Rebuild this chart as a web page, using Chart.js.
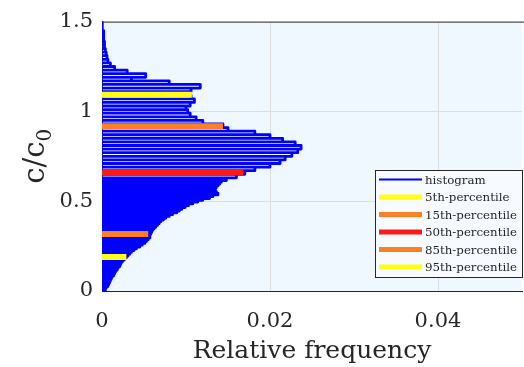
<!DOCTYPE html>
<html>
<head>
<meta charset="utf-8">
<script src="https://cdn.jsdelivr.net/npm/chart.js@4"></script>
<style>
  html, body { margin: 0; padding: 0; background: #fff; }
  #wrap { width: 524px; height: 367px; position: relative; }
</style>
</head>
<body>
<div id="wrap"><canvas id="histChart"></canvas></div>
<script>
// bin centres (c/c0) and relative frequency
const binCenters = [
  0.00,0.01,0.02,0.03,0.04,0.05,0.06,0.07,0.08,0.09,
  0.10,0.11,0.12,0.13,0.14,0.15,0.16,0.17,0.18,0.19,
  0.20,0.21,0.22,0.23,0.24,0.25,0.26,0.27,0.28,0.29,
  0.30,0.31,0.32,0.33,0.34,0.35,0.36,0.37,0.38,0.39,
  0.40,0.41,0.42,0.43,0.44,0.45,0.46,0.47,0.48,0.49,
  0.50,0.51,0.52,0.53,0.54,0.55,0.56,0.57,0.58,0.59,
  0.60,0.61,
  0.62,0.64,0.66,0.68,0.70,0.72,0.74,0.76,0.78,0.80,
  0.82,0.84,0.86,0.88,0.90,0.92,0.94,0.96,0.98,1.00,
  1.02,1.04,1.06,1.08,1.10,1.12,1.14,1.16,1.18,1.20,
  1.22,1.24,1.26,1.28,1.30,1.32,1.34,1.36,1.38,1.40,
  1.42,1.44,1.46,1.48,1.50
];
const relFreq = [
  0.0002,0.0004,0.0005,0.0007,0.0008,0.0009,0.0010,0.0011,0.0012,0.0014,
  0.0015,0.0016,0.0018,0.0019,0.0021,0.0022,0.0023,0.0025,0.0027,0.0029,
  0.0031,0.0033,0.0035,0.0038,0.0041,0.0045,0.0048,0.0051,0.0053,0.0055,
  0.0057,0.0057,0.0058,0.0059,0.0060,0.0062,0.0064,0.0066,0.0068,0.0070,
  0.0073,0.0076,0.0080,0.0084,0.0089,0.0092,0.0095,0.0099,0.0103,0.0108,
  0.0114,0.0120,0.0128,0.0132,0.0138,0.0136,0.0134,0.0135,0.0136,0.0138,
  0.0140,0.0142,
  0.0148,0.0160,0.0170,0.0182,0.0200,0.0212,0.0218,0.0226,0.0233,0.0237,
  0.0230,0.0215,0.0200,0.0182,0.0150,0.0144,0.0120,0.0112,0.0105,0.0102,
  0.0100,0.0105,0.0110,0.0106,0.0104,0.0106,0.0117,0.0080,0.0035,0.0052,
  0.0030,0.0015,0.0010,0.0007,0.0006,0.0005,0.0004,0.0003,0.0003,0.0002,
  0.0002,0.0002,0.0001,0.0001,0.0000
];

// percentiles
const pctLabels = ['5th-percentile','15th-percentile','50th-percentile','85th-percentile','95th-percentile'];
const pctLevels = [0.19, 0.317, 0.66, 0.918, 1.093];
const pctFreq   = [0.0029, 0.0055, 0.0168, 0.0144, 0.0107];
const pctColors = ['#ffff14','#ff8024','#ff1a1a','#ff8024','#ffff14'];

const xTicks = [0, 0.02, 0.04];
const yTicks = [0, 0.5, 1, 1.5];

// build the histogram outline: one rectangle per bin, back to x=0 each time
function binEdges(c) {
  const lo = [], hi = [];
  for (let i = 0; i < c.length; i++) {
    const dPrev = i > 0 ? c[i] - c[i-1] : c[i+1] - c[i];
    const dNext = i < c.length - 1 ? c[i+1] - c[i] : dPrev;
    lo.push(c[i] - dPrev / 2);
    hi.push(c[i] + dNext / 2);
  }
  return { lo, hi };
}
const edges = binEdges(binCenters);
const histPts = [];
binCenters.forEach((c, i) => {
  histPts.push({ x: 0, y: edges.lo[i] });
  histPts.push({ x: relFreq[i], y: edges.lo[i] });
  histPts.push({ x: relFreq[i], y: edges.hi[i] });
  histPts.push({ x: 0, y: edges.hi[i] });
});

const datasets = [{
  label: 'histogram',
  data: histPts,
  borderColor: '#0000ff',
  borderWidth: 2.8,
  borderJoinStyle: 'round',
  showLine: true,
  pointRadius: 0,
  order: 10
}];
pctLabels.forEach((lab, i) => {
  datasets.push({
    label: lab,
    data: [{ x: 0, y: pctLevels[i] }, { x: pctFreq[i], y: pctLevels[i] }],
    borderColor: pctColors[i],
    borderWidth: 6,
    borderCapStyle: 'butt',
    showLine: true,
    pointRadius: 0,
    order: 1
  });
});

const SERIF = '"DejaVu Serif", "Liberation Serif", serif';
const AXIS = '#262626';

const plotBg = {
  id: 'plotBg',
  beforeDraw(chart) {
    const { ctx, chartArea: a } = chart;
    ctx.save();
    ctx.fillStyle = '#f0f8ff';
    ctx.fillRect(a.left, a.top, a.right - a.left, a.bottom - a.top);
    ctx.restore();
  },
  afterDraw(chart) {
    const { ctx, chartArea: a } = chart;
    ctx.save();
    // top box line
    ctx.strokeStyle = AXIS;
    ctx.lineWidth = 1;
    ctx.beginPath();
    ctx.moveTo(a.left, a.top + 0.5);
    ctx.lineTo(a.right + 2, a.top + 0.5);
    ctx.stroke();

    // y title c/c0 with subscript
    ctx.translate(36, (a.top + a.bottom) / 2);
    ctx.rotate(-Math.PI / 2);
    ctx.fillStyle = AXIS;
    ctx.textBaseline = 'alphabetic';
    const main = 'c/c';
    ctx.font = '29px ' + SERIF;
    const w1 = ctx.measureText(main).width;
    ctx.font = '20px ' + SERIF;
    const w2 = ctx.measureText('0').width;
    const x0 = -(w1 + w2) / 2;
    ctx.font = '29px ' + SERIF;
    ctx.textAlign = 'left';
    ctx.fillText(main, x0, 8);
    ctx.font = '20px ' + SERIF;
    ctx.fillText('0', x0 + w1, 15);
    ctx.restore();

    // legend box
    const L = 375, T = 170, R = 523, B = 278;
    ctx.save();
    ctx.fillStyle = '#f7fbff';
    ctx.fillRect(L, T, R - L, B - T);
    ctx.strokeStyle = AXIS;
    ctx.lineWidth = 1;
    ctx.strokeRect(L + 0.5, T + 0.5, R - L - 1, B - T - 1);
    ctx.font = '11.8px ' + SERIF;
    ctx.textBaseline = 'middle';
    ctx.textAlign = 'left';
    chart.data.datasets.forEach((ds, i) => {
      const y = 179.5 + i * 17.5;
      ctx.strokeStyle = ds.borderColor;
      ctx.lineWidth = i === 0 ? 2 : 5;
      ctx.beginPath();
      ctx.moveTo(379, y);
      ctx.lineTo(422, y);
      ctx.stroke();
      ctx.fillStyle = AXIS;
      ctx.fillText(ds.label, 425, y + 1);
    });
    ctx.restore();
  }
};

new Chart(document.getElementById('histChart'), {
  type: 'scatter',
  data: { datasets },
  options: {
    responsive: true,
    maintainAspectRatio: false,
    animation: false,
    layout: { padding: { top: 17, right: 2, left: 0, bottom: 0 } },
    plugins: {
      legend: { display: false },
      tooltip: { enabled: false }
    },
    scales: {
      x: {
        type: 'linear', min: 0, max: 0.05,
        afterBuildTicks: s => { s.ticks = xTicks.map(v => ({ value: v })); },
        afterFit: s => { s.height = 76; },
        ticks: {
          color: AXIS, padding: 18,
          font: { family: SERIF, size: 21 },
          callback: v => String(v)
        },
        grid: {
          drawTicks: false,
          color: c => (c.tick && c.tick.value > 0) ? '#dedede' : 'rgba(0,0,0,0)'
        },
        border: { color: AXIS, width: 1 },
        title: {
          display: true, text: 'Relative frequency', color: AXIS,
          font: { family: SERIF, size: 25 }, padding: { top: 0, bottom: 1 }
        }
      },
      y: {
        type: 'linear', min: 0, max: 1.5,
        afterBuildTicks: s => { s.ticks = yTicks.map(v => ({ value: v })); },
        afterFit: s => { s.width = 102; },
        ticks: {
          color: AXIS, padding: 9,
          font: { family: SERIF, size: 21 },
          callback: v => String(v)
        },
        grid: {
          drawTicks: false,
          color: c => (c.tick && c.tick.value > 0 && c.tick.value < 1.5) ? '#dedede' : 'rgba(0,0,0,0)'
        },
        border: { color: AXIS, width: 1 }
      }
    }
  },
  plugins: [plotBg]
});
</script>
</body>
</html>
